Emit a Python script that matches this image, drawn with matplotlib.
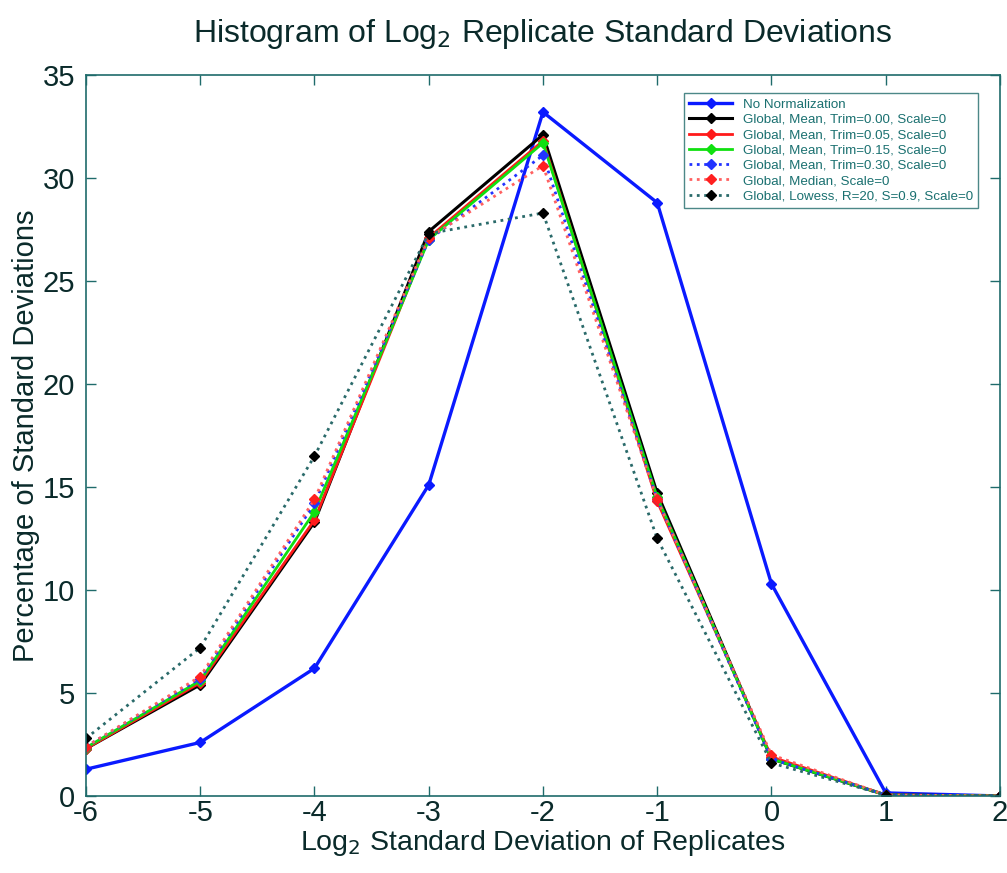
import matplotlib
matplotlib.use("Agg")
import matplotlib.pyplot as plt

plt.rcParams['font.family'] = ['Liberation Sans', 'DejaVu Sans']
plt.rcParams['axes.unicode_minus'] = False

x = [-6, -5, -4, -3, -2, -1, 0, 1, 2]

no_norm    = [1.3, 2.6, 6.2, 15.1, 33.2, 28.8, 10.3, 0.15, 0.0]
trim_000   = [2.3, 5.4, 13.3, 27.4, 32.1, 14.7, 1.8, 0.05, 0.0]
trim_005   = [2.3, 5.5, 13.4, 27.1, 31.8, 14.3, 1.9, 0.05, 0.0]
trim_015   = [2.35, 5.6, 13.8, 27.0, 31.7, 14.5, 1.8, 0.05, 0.0]
trim_030   = [2.4, 5.7, 14.2, 27.0, 31.1, 14.4, 1.8, 0.05, 0.0]
median     = [2.4, 5.8, 14.4, 27.1, 30.6, 14.4, 2.0, 0.05, 0.0]
lowess     = [2.8, 7.2, 16.5, 27.3, 28.3, 12.5, 1.6, 0.05, 0.0]

labels = ["No Normalization",
          "Global, Mean, Trim=0.00, Scale=0",
          "Global, Mean, Trim=0.05, Scale=0",
          "Global, Mean, Trim=0.15, Scale=0",
          "Global, Mean, Trim=0.30, Scale=0",
          "Global, Median, Scale=0",
          "Global, Lowess, R=20, S=0.9, Scale=0"]

xticks = [-6, -5, -4, -3, -2, -1, 0, 1, 2]
yticks = [0, 5, 10, 15, 20, 25, 30, 35]

axc = '#1f6b6b'
txtc = '#0a2a2a'

fig = plt.figure(figsize=(10.07, 8.73), dpi=100)
ax = fig.add_axes([0.0854, 0.0882, 0.9076, 0.8259])

styles = [
    (no_norm, '#0a1aff', '-', '#0a1aff', 2.4),
    (trim_000, '#000000', '-', '#000000', 2.2),
    (trim_005, '#ff1a1a', '-', '#ff1a1a', 2.0),
    (trim_015, '#10e010', '-', '#10e010', 2.0),
    (trim_030, '#2233ff', ':', '#2233ff', 2.0),
    (median, '#ff6060', ':', '#ff2020', 2.0),
    (lowess, '#2a6a6a', ':', '#000000', 2.0),
]
for (vals, c, ls, mc, lw), lab in zip(styles, labels):
    ax.plot(x, vals, color=c, linestyle=ls, linewidth=lw, marker='D',
            markersize=5.5, markerfacecolor=mc, markeredgecolor=mc, label=lab)

ax.set_xlim(-6, 2)
ax.set_ylim(0, 35)
ax.set_xticks(xticks)
ax.set_yticks(yticks)
ax.tick_params(direction='in', top=True, right=True, length=7, width=1,
               color=axc, labelsize=21, labelcolor=txtc)
ax.tick_params(axis='x', pad=2)
ax.tick_params(axis='y', pad=8)
for s in ax.spines.values():
    s.set_color(axc)
    s.set_linewidth(1.2)

ax.set_title("Histogram of Log$_2$ Replicate Standard Deviations",
             fontsize=23, color=txtc, pad=24)
ax.set_xlabel("Log$_2$ Standard Deviation of Replicates", fontsize=20.5,
              color=txtc, labelpad=1)
ax.set_ylabel("Percentage of Standard Deviations", fontsize=21,
              color=txtc, labelpad=2)

leg = ax.legend(loc='upper right', bbox_to_anchor=(0.976, 0.975),
                borderaxespad=0, fontsize=9.6, frameon=True, fancybox=False,
                edgecolor=axc, handlelength=3.2, labelspacing=0.22,
                borderpad=0.4, handletextpad=0.8, markerscale=0.9)
leg.get_frame().set_linewidth(1.0)
for t in leg.get_texts():
    t.set_color('#1a7070')

fig.savefig("out.png", dpi=100)
